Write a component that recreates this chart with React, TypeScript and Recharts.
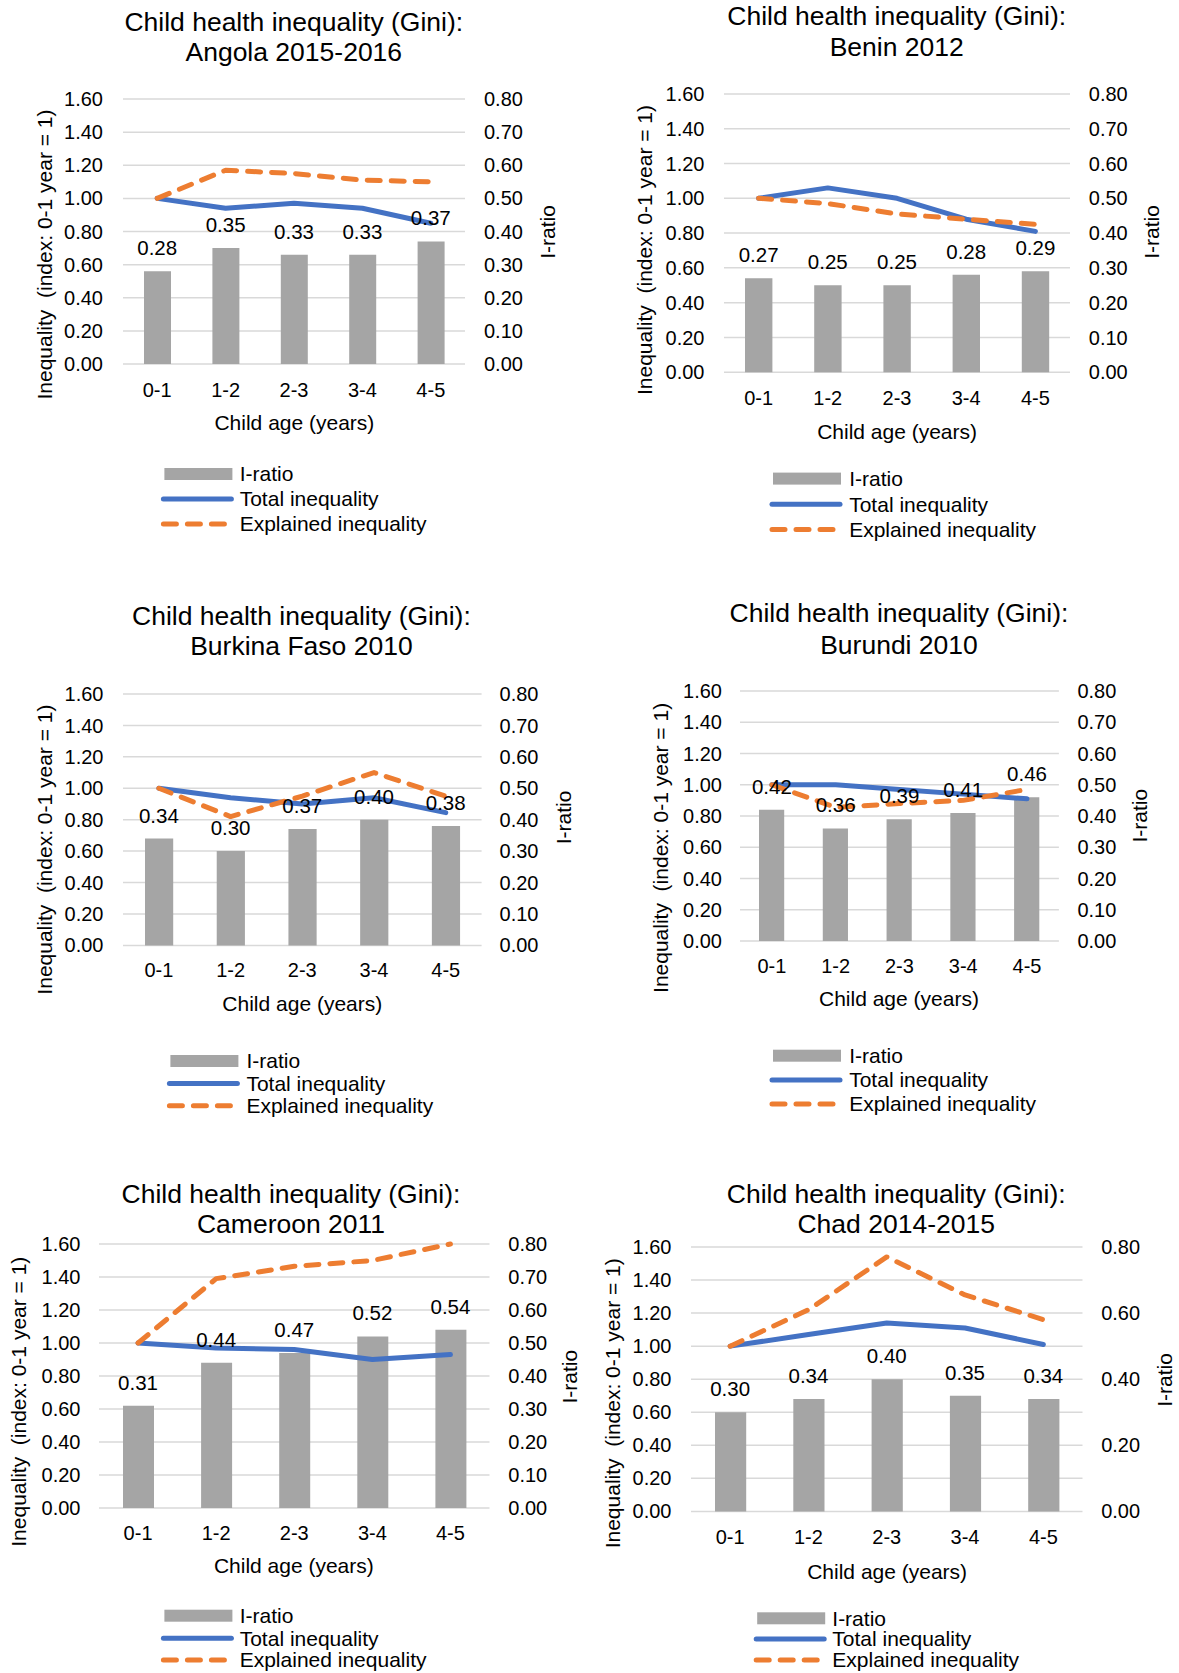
import React from 'react';
import { ComposedChart, Bar, Line, XAxis, YAxis, CartesianGrid, LabelList } from 'recharts';

// ---------- data ----------
const categories = ['0-1', '1-2', '2-3', '3-4', '4-5'];
const leftTicks = [0, 0.2, 0.4, 0.6, 0.8, 1.0, 1.2, 1.4, 1.6];
const rightTicksFine = [0, 0.1, 0.2, 0.3, 0.4, 0.5, 0.6, 0.7, 0.8];
const rightTicksCoarse = [0, 0.2, 0.4, 0.6, 0.8];
const titleLine1 = 'Child health inequality (Gini):';
const xAxisTitle = 'Child age (years)';
const leftAxisTitle = 'Inequality\u00A0\u00A0(index: 0-1 year = 1)';
const rightAxisTitle = 'I-ratio';
const legendNames = ['I-ratio', 'Total inequality', 'Explained inequality'];

const countryTitles = ['Angola 2015-2016', 'Benin 2012', 'Burkina Faso 2010', 'Burundi 2010', 'Cameroon 2011', 'Chad 2014-2015'];

const angolaIRatio = [0.28, 0.35, 0.33, 0.33, 0.37];
const angolaTotal = [1.0, 0.94, 0.97, 0.94, 0.85];
const angolaExplained = [1.0, 1.17, 1.15, 1.11, 1.1];

const beninIRatio = [0.27, 0.25, 0.25, 0.28, 0.29];
const beninTotal = [1.0, 1.06, 1.0, 0.88, 0.81];
const beninExplained = [1.0, 0.97, 0.91, 0.88, 0.85];

const burkinaIRatio = [0.34, 0.3, 0.37, 0.4, 0.38];
const burkinaTotal = [1.0, 0.94, 0.9, 0.94, 0.845];
const burkinaExplained = [1.0, 0.82, 0.95, 1.1, 0.95];

const burundiIRatio = [0.42, 0.36, 0.39, 0.41, 0.46];
const burundiTotal = [1.0, 1.0, 0.97, 0.94, 0.91];
const burundiExplained = [1.0, 0.855, 0.88, 0.9, 0.97];

const cameroonIRatio = [0.31, 0.44, 0.47, 0.52, 0.54];
const cameroonTotal = [1.0, 0.97, 0.96, 0.9, 0.93];
const cameroonExplained = [1.0, 1.39, 1.465, 1.5, 1.6];

const chadIRatio = [0.3, 0.34, 0.4, 0.35, 0.34];
const chadTotal = [1.0, 1.07, 1.14, 1.11, 1.01];
const chadExplained = [1.0, 1.22, 1.54, 1.31, 1.16];

// ---------- layout / style ----------
const FONT = "'Liberation Sans', Arial, sans-serif";
const GRAY = '#A5A5A5';
const BLUE = '#4472C4';
const ORANGE = '#ED7D31';
const GRID = '#D9D9D9';
const DASH = '13 11';
const LINE_W = 5;

type Layout = {
  l: number; r: number; t: number; b: number;
  gapL: number; gapR: number; xTickY: number; xTitleY: number;
  titleX: number; titleY: [number, number];
  leftLabel: [number, number]; rightLabel: [number, number];
  legendRectX: number; legendTextX: number; legendRows: [number, number, number];
  barSize: number;
};

const layouts: Layout[] = [
  { l: 123.4, r: 465.4, t: 99.3, b: 364.3, gapL: 20, gapR: 19, xTickY: 390, xTitleY: 423, titleX: 293.8, titleY: [21.4, 51.8],
    leftLabel: [45, 254.5], rightLabel: [547.4, 232], legendRectX: 164.4, legendTextX: 239.7, legendRows: [474, 499, 524], barSize: 27 },
  { l: 724.1, r: 1070.1, t: 93.9, b: 372.1, gapL: 19.5, gapR: 18.8, xTickY: 398.2, xTitleY: 431.4, titleX: 896.7, titleY: [16, 46.4],
    leftLabel: [644.5, 250], rightLabel: [1151.6, 232], legendRectX: 773, legendTextX: 849.2, legendRows: [478.6, 504.3, 529.6], barSize: 27.4 },
  { l: 123, r: 481.6, t: 693.6, b: 945, gapL: 19.5, gapR: 18, xTickY: 970, xTitleY: 1003.2, titleX: 301.4, titleY: [615.7, 646.1],
    leftLabel: [45, 849.6], rightLabel: [563.2, 817.5], legendRectX: 170.4, legendTextX: 246.4, legendRows: [1061, 1083.6, 1105.7], barSize: 28.2 },
  { l: 739.5, r: 1058.4, t: 691.1, b: 941.1, gapL: 18, gapR: 18.5, xTickY: 966.4, xTitleY: 998.6, titleX: 899, titleY: [612.9, 644.3],
    leftLabel: [660.6, 847.9], rightLabel: [1139.2, 815.7], legendRectX: 773, legendTextX: 849.2, legendRows: [1055.7, 1080, 1103.9], barSize: 25.2 },
  { l: 98.6, r: 489.1, t: 1244.3, b: 1508.3, gapL: 18.5, gapR: 18.8, xTickY: 1533.3, xTitleY: 1566, titleX: 291, titleY: [1193.3, 1223.3],
    leftLabel: [18.8, 1401.7], rightLabel: [570, 1376.7], legendRectX: 164.4, legendTextX: 239.7, legendRows: [1615.7, 1638.3, 1660], barSize: 31 },
  { l: 691.4, r: 1082.9, t: 1247.3, b: 1511.7, gapL: 19.5, gapR: 18.7, xTickY: 1537.7, xTitleY: 1571.7, titleX: 896.2, titleY: [1193.3, 1223.3],
    leftLabel: [612.5, 1403.3], rightLabel: [1164.8, 1380], legendRectX: 757.2, legendTextX: 832.3, legendRows: [1618.3, 1639, 1660], barSize: 31.2 },
];

const seriesSets = [
  { ratio: angolaIRatio, total: angolaTotal, explained: angolaExplained, rightTicks: rightTicksFine },
  { ratio: beninIRatio, total: beninTotal, explained: beninExplained, rightTicks: rightTicksFine },
  { ratio: burkinaIRatio, total: burkinaTotal, explained: burkinaExplained, rightTicks: rightTicksFine },
  { ratio: burundiIRatio, total: burundiTotal, explained: burundiExplained, rightTicks: rightTicksFine },
  { ratio: cameroonIRatio, total: cameroonTotal, explained: cameroonExplained, rightTicks: rightTicksFine },
  { ratio: chadIRatio, total: chadTotal, explained: chadExplained, rightTicks: rightTicksCoarse },
];

const fmt = (v: any) => Number(v).toFixed(2);

function PanelChart({ idx }: { idx: number }) {
  const L = layouts[idx];
  const S = seriesSets[idx];
  const LW = 90, RW = 90, MT = 12, XH = 50;
  const w = L.r - L.l + LW + RW;
  const h = L.b - L.t + MT + XH;
  const data = categories.map((c, i) => ({ cat: c, ratio: S.ratio[i], total: S.total[i], explained: S.explained[i] }));
  const tickStyle = { fill: '#000', fontSize: 20, fontFamily: FONT };
  const xTickMargin = L.xTickY - L.b - 7.1;
  return (
    <div style={{ position: 'absolute', left: L.l - LW, top: L.t - MT, width: w, height: h }}>
      <ComposedChart width={w} height={h} data={data} margin={{ top: MT, right: 0, bottom: 0, left: 0 }}>
        <CartesianGrid yAxisId="left" horizontal vertical={false} stroke={GRID} strokeWidth={1.5} />
        <XAxis dataKey="cat" height={XH} axisLine={false} tickLine={false} tickSize={0} tickMargin={xTickMargin}
          tick={tickStyle} interval={0} />
        <YAxis yAxisId="left" orientation="left" width={LW} domain={[0, 1.6]} ticks={leftTicks} axisLine={false}
          tickLine={false} tickSize={0} tickMargin={L.gapL} tick={tickStyle} tickFormatter={fmt} interval={0} />
        <YAxis yAxisId="right" orientation="right" width={RW} domain={[0, 0.8]} ticks={S.rightTicks} axisLine={false}
          tickLine={false} tickSize={0} tickMargin={L.gapR} tick={tickStyle} tickFormatter={fmt} interval={0} />
        <Bar yAxisId="right" dataKey="ratio" fill={GRAY} barSize={L.barSize} isAnimationActive={false} />
        <Line yAxisId="left" dataKey="total" stroke={BLUE} strokeWidth={LINE_W} strokeLinecap="round" strokeLinejoin="round"
          dot={false} activeDot={false} isAnimationActive={false} type="linear" />
        <Line yAxisId="left" dataKey="explained" stroke={ORANGE} strokeWidth={LINE_W} strokeDasharray={DASH}
          strokeLinecap="round" strokeLinejoin="round" dot={false} activeDot={false} isAnimationActive={false} type="linear" />
        <Line yAxisId="right" dataKey="ratio" stroke="none" strokeWidth={0} dot={false} activeDot={false}
          isAnimationActive={false} legendType="none">
          <LabelList dataKey="ratio" position="top" offset={16} formatter={fmt} fill="#000"
            style={{ fontSize: 20.5, fontFamily: FONT, fill: '#000' }} />
        </Line>
      </ComposedChart>
    </div>
  );
}

function Overlay() {
  return (
    <svg width={1179} height={1673} style={{ position: 'absolute', left: 0, top: 0, pointerEvents: 'none' }}
      fontFamily={FONT}>
      {layouts.map((L, i) => (
        <g key={i} fill="#000">
          <text x={L.titleX} y={L.titleY[0]} dy="0.35em" textAnchor="middle" fontSize={26.5}>{titleLine1}</text>
          <text x={L.titleX} y={L.titleY[1]} dy="0.35em" textAnchor="middle" fontSize={26.5}>{countryTitles[i]}</text>
          <text x={(L.l + L.r) / 2} y={L.xTitleY} dy="0.35em" textAnchor="middle" fontSize={21}>{xAxisTitle}</text>
          <text x={L.leftLabel[0]} y={L.leftLabel[1]} dy="0.35em" textAnchor="middle" fontSize={21}
            transform={`rotate(-90 ${L.leftLabel[0]} ${L.leftLabel[1]})`}>{leftAxisTitle}</text>
          <text x={L.rightLabel[0]} y={L.rightLabel[1]} dy="0.35em" textAnchor="middle" fontSize={21}
            transform={`rotate(-90 ${L.rightLabel[0]} ${L.rightLabel[1]})`}>{rightAxisTitle}</text>
          <rect x={L.legendRectX} y={L.legendRows[0] - 6} width={68} height={12} fill={GRAY} />
          <line x1={L.legendRectX - 1} x2={L.legendRectX + 67} y1={L.legendRows[1]} y2={L.legendRows[1]}
            stroke={BLUE} strokeWidth={LINE_W} strokeLinecap="round" />
          <line x1={L.legendRectX - 1} x2={L.legendRectX + 67} y1={L.legendRows[2]} y2={L.legendRows[2]}
            stroke={ORANGE} strokeWidth={LINE_W} strokeLinecap="round" strokeDasharray={DASH} />
          {legendNames.map((n, j) => (
            <text key={n} x={L.legendTextX} y={L.legendRows[j]} dy="0.35em" fontSize={21}>{n}</text>
          ))}
        </g>
      ))}
    </svg>
  );
}

export default function App() {
  return (
    <div style={{ position: 'absolute', left: 0, top: 0, width: 1179, height: 1673, background: '#fff', fontFamily: FONT }}>
      {layouts.map((_, i) => <PanelChart key={i} idx={i} />)}
      <Overlay />
    </div>
  );
}
